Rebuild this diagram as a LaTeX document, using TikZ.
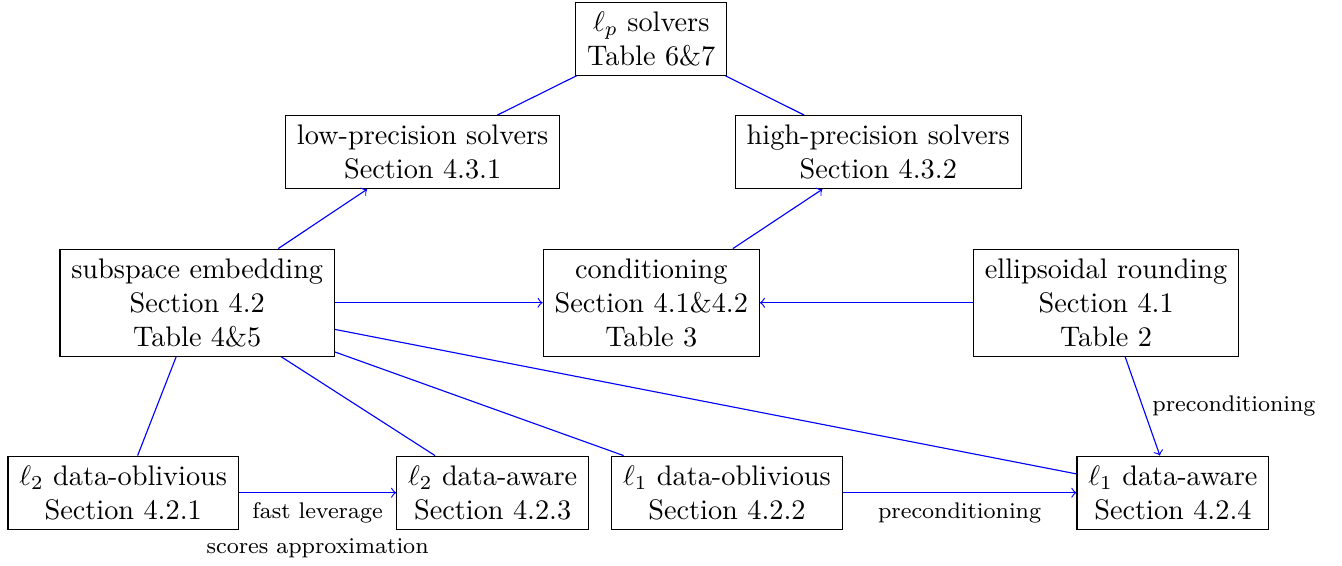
\documentclass[tikz,border=0pt]{standalone}
\usepackage{amsmath}
\usepackage{amssymb}

\begin{document}
\begin{tikzpicture}[auto]
            \useasboundingbox (0,0) rectangle (16.67,-7.03);
            \begin{scope}[every node/.style={rectangle,draw=black,align=center,inner xsep=4pt}]
                \node (lp) at (8.09,-0.48) {$\ell_p$ solvers\\Table 6\&7};
                \node (low) at (5.25,-1.89) {low-precision solvers\\Section 4.3.1};
                \node (high) at (10.91,-1.89) {high-precision solvers\\Section 4.3.2};
                \node (se) at (2.45,-3.76) {subspace embedding\\Section 4.2\\Table 4\&5};
                \node (cond) at (8.09,-3.76) {conditioning\\Section 4.1\&4.2\\Table 3};
                \node (er) at (13.74,-3.76) {ellipsoidal rounding\\Section 4.1\\Table 2};
                \node (l2o) at (1.53,-6.12) {$\ell_2$ data-oblivious\\Section 4.2.1};
                \node (l2a) at (6.12,-6.12) {$\ell_2$ data-aware\\Section 4.2.3};
                \node (l1o) at (9.03,-6.12) {$\ell_1$ data-oblivious\\Section 4.2.2};
                \node (l1a) at (14.57,-6.12) {$\ell_1$ data-aware\\Section 4.2.4};
            \end{scope}
            \begin{scope}[blue,every node/.style={black,font=\footnotesize,align=center}]
            \draw (lp) edge (low);
            \draw (lp) edge (high);
            \draw (se) edge [->] (low);
            \draw (cond) edge [->] (high);
            \draw (se) edge [->] (cond);
            \draw (er) edge [->] (cond);
            \draw (se) edge (l2o);
            \draw (se) edge (l2a);
            \draw (se) edge (l1o);
            \draw (se) edge (l1a);
            \draw (l2o) edge [->] node[below]{fast leverage\\[3pt]scores approximation} (l2a);
            \draw (l1o) edge [->] node[below]{preconditioning} (l1a);
            \draw (er) edge [->] node[right,pos=0.5]{preconditioning} (l1a);
            \end{scope}
        \end{tikzpicture}
\end{document}
